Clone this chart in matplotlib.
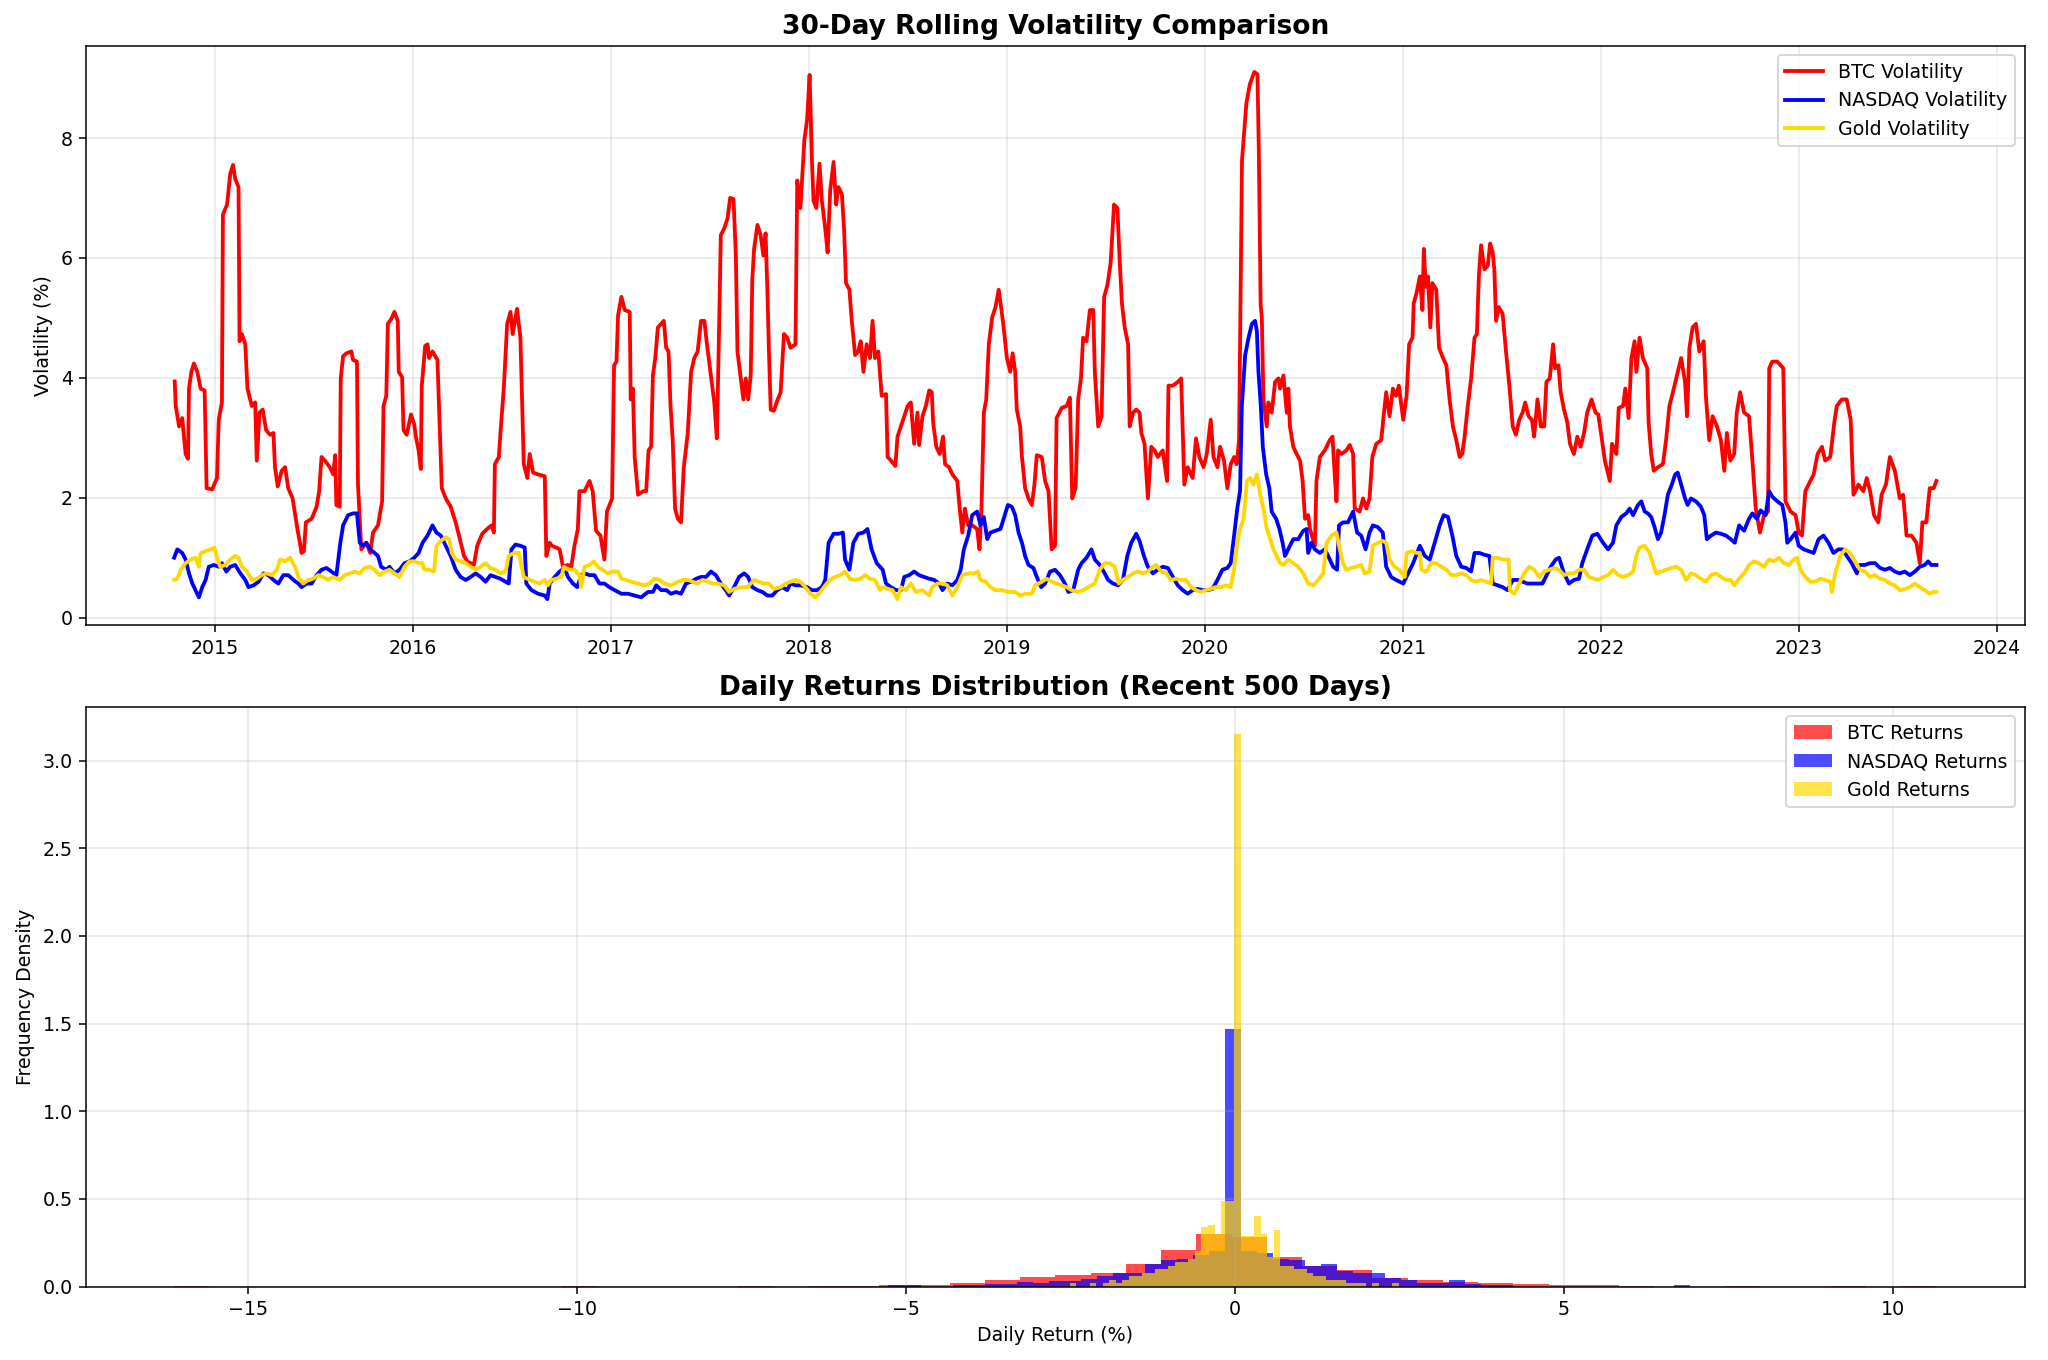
import numpy as np
import pandas as pd
import matplotlib
matplotlib.use("Agg")
import matplotlib.pyplot as plt

# --- 30-day rolling volatility (%), dates as decimal years ---
btc_t = [2014.797, 2014.802, 2014.819, 2014.835, 2014.852, 2014.864, 2014.869, 2014.881, 2014.894, 2014.911,
         2014.928, 2014.948, 2014.958, 2014.986, 2015.011, 2015.020, 2015.036, 2015.041, 2015.062, 2015.078,
         2015.092, 2015.103, 2015.120, 2015.125, 2015.137, 2015.154, 2015.165, 2015.187, 2015.204, 2015.212,
         2015.226, 2015.242, 2015.259, 2015.279, 2015.296, 2015.304, 2015.318, 2015.338, 2015.355, 2015.371,
         2015.393, 2015.417, 2015.430, 2015.438, 2015.450, 2015.460, 2015.489, 2015.514, 2015.527, 2015.539,
         2015.556, 2015.581, 2015.598, 2015.608, 2015.614, 2015.631, 2015.636, 2015.648, 2015.665, 2015.690,
         2015.698, 2015.718, 2015.723, 2015.740, 2015.765, 2015.785, 2015.799, 2015.824, 2015.845, 2015.852,
         2015.866, 2015.874, 2015.891, 2015.907, 2015.924, 2015.929, 2015.946, 2015.953, 2015.969, 2015.991,
         2016.008, 2016.016, 2016.030, 2016.041, 2016.046, 2016.063, 2016.075, 2016.083, 2016.100, 2016.125,
         2016.137, 2016.147, 2016.167, 2016.192, 2016.217, 2016.234, 2016.259, 2016.276, 2016.293, 2016.309,
         2016.326, 2016.351, 2016.376, 2016.398, 2016.410, 2016.415, 2016.435, 2016.448, 2016.460, 2016.477,
         2016.494, 2016.505, 2016.527, 2016.544, 2016.561, 2016.579, 2016.591, 2016.608, 2016.633, 2016.667,
         2016.675, 2016.692, 2016.703, 2016.725, 2016.742, 2016.759, 2016.784, 2016.801, 2016.817, 2016.834,
         2016.842, 2016.868, 2016.893, 2016.909, 2016.926, 2016.948, 2016.968, 2016.981, 2017.005, 2017.015,
         2017.027, 2017.035, 2017.052, 2017.069, 2017.094, 2017.099, 2017.110, 2017.119, 2017.136, 2017.161,
         2017.177, 2017.189, 2017.202, 2017.211, 2017.223, 2017.236, 2017.253, 2017.266, 2017.278, 2017.290,
         2017.300, 2017.311, 2017.323, 2017.337, 2017.353, 2017.367, 2017.387, 2017.404, 2017.420, 2017.437,
         2017.454, 2017.471, 2017.484, 2017.504, 2017.521, 2017.534, 2017.543, 2017.554, 2017.571, 2017.588,
         2017.601, 2017.618, 2017.630, 2017.638, 2017.655, 2017.668, 2017.680, 2017.692, 2017.705, 2017.713,
         2017.722, 2017.739, 2017.755, 2017.769, 2017.780, 2017.789, 2017.797, 2017.806, 2017.822, 2017.839,
         2017.856, 2017.873, 2017.889, 2017.906, 2017.931, 2017.940, 2017.956, 2017.976, 2017.990, 2018.003,
         2018.015, 2018.023, 2018.037, 2018.053, 2018.065, 2018.082, 2018.094, 2018.107, 2018.124, 2018.137,
         2018.149, 2018.166, 2018.177, 2018.187, 2018.204, 2018.216, 2018.233, 2018.249, 2018.261, 2018.275,
         2018.291, 2018.308, 2018.321, 2018.333, 2018.350, 2018.367, 2018.389, 2018.397, 2018.414, 2018.436,
         2018.447, 2018.464, 2018.481, 2018.498, 2018.514, 2018.531, 2018.548, 2018.556, 2018.573, 2018.590,
         2018.607, 2018.620, 2018.627, 2018.643, 2018.660, 2018.677, 2018.687, 2018.707, 2018.724, 2018.749,
         2018.761, 2018.774, 2018.787, 2018.804, 2018.824, 2018.849, 2018.861, 2018.871, 2018.883, 2018.895,
         2018.908, 2018.925, 2018.942, 2018.958, 2018.972, 2018.983, 2019.000, 2019.017, 2019.029, 2019.042,
         2019.050, 2019.067, 2019.076, 2019.092, 2019.109, 2019.126, 2019.139, 2019.151, 2019.176, 2019.193,
         2019.210, 2019.226, 2019.243, 2019.251, 2019.277, 2019.302, 2019.318, 2019.330, 2019.347, 2019.360,
         2019.374, 2019.385, 2019.402, 2019.419, 2019.436, 2019.444, 2019.461, 2019.478, 2019.491, 2019.508,
         2019.524, 2019.541, 2019.558, 2019.570, 2019.581, 2019.595, 2019.612, 2019.620, 2019.637, 2019.653,
         2019.670, 2019.679, 2019.695, 2019.712, 2019.729, 2019.746, 2019.762, 2019.787, 2019.809, 2019.816,
         2019.838, 2019.863, 2019.880, 2019.896, 2019.913, 2019.938, 2019.955, 2019.972, 2019.993, 2020.010,
         2020.030, 2020.044, 2020.064, 2020.077, 2020.097, 2020.114, 2020.131, 2020.148, 2020.161, 2020.173,
         2020.188, 2020.210, 2020.228, 2020.250, 2020.266, 2020.273, 2020.282, 2020.288, 2020.296, 2020.313,
         2020.321, 2020.338, 2020.355, 2020.372, 2020.380, 2020.397, 2020.414, 2020.422, 2020.430, 2020.447,
         2020.464, 2020.481, 2020.494, 2020.506, 2020.522, 2020.531, 2020.556, 2020.564, 2020.581, 2020.606,
         2020.631, 2020.645, 2020.656, 2020.665, 2020.673, 2020.690, 2020.715, 2020.732, 2020.749, 2020.757,
         2020.782, 2020.799, 2020.816, 2020.832, 2020.846, 2020.866, 2020.891, 2020.903, 2020.916, 2020.933,
         2020.950, 2020.966, 2020.980, 2021.000, 2021.017, 2021.030, 2021.047, 2021.053, 2021.067, 2021.084,
         2021.097, 2021.104, 2021.114, 2021.125, 2021.137, 2021.147, 2021.167, 2021.181, 2021.201, 2021.218,
         2021.234, 2021.251, 2021.268, 2021.285, 2021.298, 2021.310, 2021.326, 2021.343, 2021.360, 2021.372,
         2021.382, 2021.393, 2021.410, 2021.427, 2021.439, 2021.452, 2021.460, 2021.469, 2021.482, 2021.502,
         2021.519, 2021.536, 2021.553, 2021.569, 2021.586, 2021.603, 2021.616, 2021.633, 2021.650, 2021.661,
         2021.678, 2021.695, 2021.712, 2021.723, 2021.740, 2021.757, 2021.767, 2021.784, 2021.795, 2021.812,
         2021.829, 2021.842, 2021.862, 2021.879, 2021.896, 2021.913, 2021.929, 2021.951, 2021.971, 2021.985,
         2022.002, 2022.019, 2022.044, 2022.055, 2022.077, 2022.089, 2022.111, 2022.122, 2022.139, 2022.153,
         2022.169, 2022.178, 2022.194, 2022.211, 2022.233, 2022.240, 2022.253, 2022.266, 2022.287, 2022.312,
         2022.328, 2022.345, 2022.367, 2022.387, 2022.404, 2022.424, 2022.434, 2022.446, 2022.462, 2022.479,
         2022.496, 2022.518, 2022.529, 2022.546, 2022.563, 2022.585, 2022.605, 2022.622, 2022.635, 2022.652,
         2022.672, 2022.685, 2022.702, 2022.722, 2022.747, 2022.764, 2022.781, 2022.802, 2022.823, 2022.843,
         2022.849, 2022.864, 2022.890, 2022.920, 2022.931, 2022.957, 2022.982, 2022.998, 2023.015, 2023.032,
         2023.057, 2023.074, 2023.094, 2023.116, 2023.132, 2023.158, 2023.178, 2023.191, 2023.216, 2023.241,
         2023.261, 2023.275, 2023.300, 2023.325, 2023.342, 2023.359, 2023.379, 2023.400, 2023.417, 2023.439,
         2023.459, 2023.484, 2023.509, 2023.526, 2023.543, 2023.568, 2023.593, 2023.610, 2023.623, 2023.643,
         2023.660, 2023.680, 2023.694]
btc_vol = [3.94, 3.53, 3.19, 3.33, 2.73, 2.65, 3.82, 4.10, 4.24, 4.10,
           3.82, 3.79, 2.16, 2.14, 2.33, 3.30, 3.59, 6.72, 6.89, 7.40,
           7.55, 7.32, 7.18, 4.61, 4.73, 4.56, 3.82, 3.53, 3.59, 2.62,
           3.42, 3.47, 3.13, 3.05, 3.08, 2.51, 2.19, 2.45, 2.51, 2.16,
           1.99, 1.48, 1.25, 1.08, 1.11, 1.59, 1.65, 1.85, 2.11, 2.68,
           2.62, 2.51, 2.39, 2.71, 1.88, 1.85, 3.99, 4.36, 4.41, 4.44,
           4.30, 4.27, 2.22, 1.14, 1.25, 1.08, 1.42, 1.54, 1.94, 3.53,
           3.70, 4.90, 4.98, 5.10, 4.95, 4.10, 4.01, 3.13, 3.05, 3.39,
           3.22, 3.02, 2.79, 2.48, 3.87, 4.53, 4.56, 4.33, 4.44, 4.30,
           3.13, 2.16, 1.99, 1.85, 1.59, 1.37, 1.03, 0.94, 0.91, 0.88,
           1.20, 1.40, 1.48, 1.54, 1.42, 2.56, 2.68, 3.30, 3.82, 4.90,
           5.10, 4.73, 5.15, 4.67, 2.56, 2.33, 2.73, 2.42, 2.39, 2.36,
           1.03, 1.25, 1.20, 1.17, 1.14, 0.85, 0.88, 0.85, 1.20, 1.48,
           2.11, 2.11, 2.28, 2.11, 1.45, 1.37, 0.97, 1.77, 1.99, 4.21,
           4.27, 5.04, 5.35, 5.13, 5.10, 3.64, 3.82, 2.68, 2.05, 2.11,
           2.11, 2.79, 2.85, 4.04, 4.33, 4.84, 4.90, 4.95, 4.50, 4.44,
           3.53, 2.96, 1.82, 1.65, 1.59, 2.51, 3.08, 4.10, 4.33, 4.44,
           4.95, 4.95, 4.56, 4.04, 3.59, 2.99, 4.44, 6.38, 6.49, 6.66,
           7.00, 6.98, 6.04, 4.44, 3.99, 3.64, 3.99, 3.64, 4.04, 5.64,
           6.15, 6.55, 6.38, 6.04, 6.41, 5.47, 4.44, 3.47, 3.45, 3.62,
           3.76, 4.73, 4.67, 4.50, 4.56, 7.29, 6.83, 7.97, 8.31, 9.05,
           7.60, 6.95, 6.83, 7.57, 6.95, 6.49, 6.09, 7.12, 7.60, 6.89,
           7.18, 7.06, 6.49, 5.58, 5.47, 4.95, 4.38, 4.44, 4.61, 4.10,
           4.56, 4.33, 4.95, 4.33, 4.44, 3.70, 3.73, 2.68, 2.62, 2.53,
           3.02, 3.19, 3.36, 3.53, 3.59, 2.90, 3.42, 2.88, 3.36, 3.53,
           3.79, 3.76, 3.25, 2.85, 2.73, 3.02, 2.56, 2.51, 2.39, 2.28,
           1.82, 1.42, 1.82, 1.54, 1.54, 1.48, 1.14, 1.82, 3.42, 3.64,
           4.56, 5.01, 5.18, 5.47, 5.13, 4.84, 4.33, 4.10, 4.41, 4.10,
           3.47, 3.19, 2.68, 2.16, 1.99, 1.88, 2.22, 2.71, 2.68, 2.28,
           2.11, 1.14, 1.20, 3.33, 3.50, 3.53, 3.67, 1.99, 2.16, 3.64,
           3.99, 4.67, 4.61, 5.13, 5.13, 4.10, 3.19, 3.36, 5.35, 5.55,
           5.92, 6.89, 6.83, 5.92, 5.24, 4.84, 4.56, 3.19, 3.42, 3.47,
           3.42, 3.08, 2.90, 1.99, 2.85, 2.79, 2.68, 2.79, 2.28, 3.87,
           3.87, 3.93, 3.99, 2.22, 2.51, 2.33, 2.99, 2.68, 2.51, 2.73,
           3.30, 2.68, 2.51, 2.85, 2.62, 2.16, 2.56, 2.68, 2.56, 2.96,
           7.63, 8.58, 8.90, 9.10, 9.06, 7.76, 5.22, 5.01, 3.64, 3.19,
           3.59, 3.42, 3.93, 3.99, 3.82, 4.04, 3.42, 3.82, 3.19, 2.85,
           2.73, 2.62, 2.28, 1.65, 1.71, 1.48, 1.20, 2.28, 2.68, 2.79,
           2.96, 3.02, 2.39, 1.94, 2.79, 2.73, 2.79, 2.88, 2.73, 1.82,
           1.77, 1.99, 1.82, 1.99, 2.68, 2.90, 2.96, 3.36, 3.76, 3.36,
           3.82, 3.70, 3.87, 3.30, 3.70, 4.56, 4.67, 5.24, 5.41, 5.69,
           5.13, 6.15, 5.52, 5.69, 4.84, 5.58, 5.47, 4.50, 4.33, 4.21,
           3.64, 3.19, 2.96, 2.68, 2.73, 3.02, 3.53, 3.99, 4.67, 4.73,
           5.69, 6.21, 5.81, 5.87, 6.24, 6.09, 5.81, 4.95, 5.18, 5.07,
           4.44, 3.87, 3.19, 3.05, 3.30, 3.42, 3.59, 3.36, 3.30, 3.02,
           3.64, 3.19, 3.19, 3.93, 3.99, 4.56, 4.16, 4.21, 3.76, 3.47,
           3.25, 2.90, 2.73, 3.02, 2.85, 3.08, 3.42, 3.64, 3.42, 3.39,
           3.02, 2.62, 2.28, 2.90, 2.73, 3.50, 3.53, 3.82, 3.33, 4.33,
           4.61, 4.10, 4.67, 4.33, 4.16, 3.25, 2.73, 2.45, 2.51, 2.56,
           2.96, 3.53, 3.82, 4.10, 4.33, 3.93, 3.36, 4.50, 4.84, 4.90,
           4.44, 4.61, 3.70, 2.96, 3.36, 3.19, 2.96, 2.45, 3.08, 2.62,
           2.73, 3.42, 3.76, 3.42, 3.36, 2.62, 1.82, 1.42, 1.71, 1.77,
           4.16, 4.27, 4.27, 4.16, 1.94, 1.77, 1.71, 1.42, 1.37, 2.11,
           2.28, 2.39, 2.73, 2.85, 2.62, 2.68, 3.25, 3.53, 3.64, 3.64,
           3.30, 2.05, 2.22, 2.11, 2.33, 2.11, 1.71, 1.59, 2.05, 2.22,
           2.68, 2.45, 1.99, 2.05, 1.37, 1.37, 1.25, 0.91, 1.59, 1.59,
           2.16, 2.16, 2.28]

nasdaq_t = [2014.794, 2014.810, 2014.835, 2014.852, 2014.869, 2014.886, 2014.902, 2014.919, 2014.936, 2014.953,
            2014.969, 2014.995, 2015.020, 2015.036, 2015.058, 2015.078, 2015.103, 2015.129, 2015.154, 2015.170,
            2015.196, 2015.221, 2015.246, 2015.271, 2015.296, 2015.321, 2015.346, 2015.371, 2015.397, 2015.422,
            2015.438, 2015.464, 2015.489, 2015.514, 2015.539, 2015.564, 2015.589, 2015.614, 2015.634, 2015.648,
            2015.673, 2015.698, 2015.718, 2015.732, 2015.748, 2015.765, 2015.785, 2015.807, 2015.824, 2015.840,
            2015.866, 2015.882, 2015.907, 2015.933, 2015.958, 2015.983, 2016.008, 2016.030, 2016.050, 2016.075,
            2016.100, 2016.120, 2016.142, 2016.167, 2016.192, 2016.217, 2016.242, 2016.268, 2016.293, 2016.318,
            2016.343, 2016.368, 2016.393, 2016.418, 2016.443, 2016.469, 2016.485, 2016.499, 2016.519, 2016.544,
            2016.566, 2016.574, 2016.600, 2016.633, 2016.667, 2016.680, 2016.692, 2016.717, 2016.742, 2016.767,
            2016.784, 2016.809, 2016.831, 2016.851, 2016.868, 2016.893, 2016.918, 2016.943, 2016.968, 2016.993,
            2017.018, 2017.052, 2017.085, 2017.119, 2017.152, 2017.186, 2017.211, 2017.228, 2017.253, 2017.278,
            2017.303, 2017.328, 2017.353, 2017.378, 2017.404, 2017.429, 2017.454, 2017.479, 2017.504, 2017.529,
            2017.554, 2017.579, 2017.596, 2017.621, 2017.646, 2017.672, 2017.692, 2017.713, 2017.739, 2017.764,
            2017.789, 2017.814, 2017.839, 2017.864, 2017.889, 2017.906, 2017.931, 2017.956, 2017.990, 2018.015,
            2018.040, 2018.065, 2018.082, 2018.099, 2018.124, 2018.149, 2018.171, 2018.182, 2018.204, 2018.224,
            2018.249, 2018.275, 2018.295, 2018.316, 2018.342, 2018.372, 2018.389, 2018.414, 2018.439, 2018.464,
            2018.481, 2018.506, 2018.531, 2018.556, 2018.581, 2018.607, 2018.632, 2018.657, 2018.674, 2018.699,
            2018.724, 2018.749, 2018.766, 2018.782, 2018.804, 2018.824, 2018.849, 2018.866, 2018.883, 2018.900,
            2018.916, 2018.942, 2018.967, 2018.983, 2019.005, 2019.025, 2019.042, 2019.059, 2019.076, 2019.092,
            2019.109, 2019.134, 2019.151, 2019.173, 2019.193, 2019.218, 2019.243, 2019.268, 2019.293, 2019.310,
            2019.335, 2019.360, 2019.377, 2019.402, 2019.427, 2019.444, 2019.469, 2019.494, 2019.511, 2019.536,
            2019.561, 2019.586, 2019.608, 2019.628, 2019.653, 2019.670, 2019.692, 2019.712, 2019.737, 2019.762,
            2019.787, 2019.813, 2019.838, 2019.863, 2019.888, 2019.913, 2019.938, 2019.963, 2019.988, 2020.014,
            2020.039, 2020.064, 2020.089, 2020.114, 2020.131, 2020.148, 2020.164, 2020.178, 2020.187, 2020.204,
            2020.221, 2020.238, 2020.254, 2020.263, 2020.271, 2020.283, 2020.293, 2020.310, 2020.326, 2020.338,
            2020.360, 2020.377, 2020.393, 2020.405, 2020.430, 2020.447, 2020.472, 2020.497, 2020.514, 2020.522,
            2020.539, 2020.556, 2020.581, 2020.606, 2020.623, 2020.648, 2020.668, 2020.678, 2020.698, 2020.723,
            2020.749, 2020.769, 2020.790, 2020.812, 2020.832, 2020.849, 2020.874, 2020.899, 2020.916, 2020.941,
            2020.966, 2021.000, 2021.025, 2021.050, 2021.084, 2021.109, 2021.134, 2021.159, 2021.184, 2021.204,
            2021.226, 2021.248, 2021.268, 2021.293, 2021.318, 2021.343, 2021.360, 2021.385, 2021.410, 2021.435,
            2021.452, 2021.477, 2021.502, 2021.527, 2021.553, 2021.578, 2021.603, 2021.628, 2021.653, 2021.678,
            2021.703, 2021.720, 2021.745, 2021.770, 2021.787, 2021.812, 2021.837, 2021.862, 2021.888, 2021.904,
            2021.929, 2021.955, 2021.980, 2022.010, 2022.035, 2022.060, 2022.077, 2022.102, 2022.127, 2022.144,
            2022.161, 2022.186, 2022.203, 2022.220, 2022.236, 2022.253, 2022.270, 2022.287, 2022.303, 2022.320,
            2022.337, 2022.357, 2022.374, 2022.387, 2022.404, 2022.424, 2022.437, 2022.454, 2022.479, 2022.504,
            2022.521, 2022.534, 2022.555, 2022.580, 2022.605, 2022.630, 2022.655, 2022.675, 2022.697, 2022.722,
            2022.747, 2022.764, 2022.786, 2022.806, 2022.831, 2022.848, 2022.864, 2022.890, 2022.915, 2022.931,
            2022.940, 2022.957, 2022.982, 2022.998, 2023.024, 2023.049, 2023.074, 2023.099, 2023.124, 2023.149,
            2023.174, 2023.199, 2023.221, 2023.241, 2023.266, 2023.292, 2023.308, 2023.333, 2023.359, 2023.384,
            2023.409, 2023.434, 2023.459, 2023.484, 2023.509, 2023.534, 2023.560, 2023.585, 2023.610, 2023.635,
            2023.652, 2023.668, 2023.694]
nasdaq_vol = [1.00, 1.14, 1.08, 0.97, 0.74, 0.57, 0.46, 0.34, 0.51, 0.63,
              0.85, 0.88, 0.85, 0.91, 0.77, 0.85, 0.88, 0.74, 0.63, 0.51,
              0.54, 0.60, 0.74, 0.71, 0.63, 0.57, 0.71, 0.71, 0.63, 0.57,
              0.51, 0.57, 0.57, 0.71, 0.80, 0.83, 0.77, 0.71, 1.25, 1.54,
              1.71, 1.74, 1.74, 1.25, 1.20, 1.25, 1.14, 1.08, 1.03, 0.85,
              0.80, 0.85, 0.74, 0.80, 0.91, 0.94, 1.00, 1.08, 1.25, 1.37,
              1.54, 1.42, 1.37, 1.20, 1.03, 0.80, 0.68, 0.63, 0.68, 0.74,
              0.68, 0.60, 0.71, 0.68, 0.65, 0.60, 0.57, 1.14, 1.22, 1.20,
              1.17, 0.57, 0.46, 0.40, 0.37, 0.31, 0.57, 0.68, 0.77, 0.83,
              0.68, 0.57, 0.51, 0.71, 0.74, 0.71, 0.71, 0.57, 0.57, 0.51,
              0.46, 0.40, 0.40, 0.37, 0.34, 0.43, 0.43, 0.54, 0.46, 0.46,
              0.40, 0.43, 0.40, 0.57, 0.60, 0.65, 0.68, 0.68, 0.77, 0.71,
              0.57, 0.46, 0.37, 0.51, 0.68, 0.74, 0.68, 0.51, 0.46, 0.43,
              0.37, 0.37, 0.46, 0.51, 0.46, 0.57, 0.54, 0.54, 0.51, 0.46,
              0.46, 0.51, 0.63, 1.25, 1.40, 1.40, 1.42, 0.97, 0.80, 1.25,
              1.40, 1.42, 1.48, 1.14, 0.91, 0.80, 0.57, 0.51, 0.46, 0.46,
              0.68, 0.71, 0.77, 0.71, 0.68, 0.65, 0.63, 0.57, 0.46, 0.57,
              0.54, 0.63, 0.80, 1.14, 1.37, 1.71, 1.77, 1.54, 1.68, 1.31,
              1.42, 1.45, 1.48, 1.65, 1.88, 1.85, 1.71, 1.42, 1.25, 1.03,
              0.88, 0.83, 0.68, 0.51, 0.57, 0.77, 0.80, 0.71, 0.57, 0.43,
              0.46, 0.80, 0.91, 1.00, 1.14, 0.97, 0.88, 0.74, 0.63, 0.57,
              0.54, 0.63, 1.03, 1.25, 1.40, 1.28, 1.03, 0.85, 0.74, 0.80,
              0.85, 0.83, 0.68, 0.54, 0.46, 0.40, 0.46, 0.48, 0.46, 0.46,
              0.48, 0.63, 0.80, 0.83, 0.91, 1.37, 1.82, 2.11, 3.53, 4.38,
              4.67, 4.90, 4.95, 4.78, 4.10, 3.53, 2.85, 2.39, 2.16, 1.77,
              1.65, 1.48, 1.25, 1.03, 1.20, 1.31, 1.31, 1.45, 1.48, 1.08,
              1.25, 1.14, 1.08, 1.14, 1.03, 0.85, 0.80, 1.54, 1.59, 1.59,
              1.77, 1.42, 1.37, 1.14, 1.42, 1.54, 1.51, 1.42, 0.85, 0.68,
              0.63, 0.57, 0.74, 0.91, 1.20, 1.03, 0.97, 1.25, 1.54, 1.71,
              1.68, 1.37, 1.03, 0.85, 0.83, 0.77, 1.08, 1.08, 1.05, 1.03,
              0.57, 0.54, 0.51, 0.46, 0.63, 0.63, 0.60, 0.57, 0.57, 0.57,
              0.57, 0.68, 0.85, 0.97, 1.00, 0.74, 0.57, 0.63, 0.65, 0.91,
              1.14, 1.37, 1.40, 1.25, 1.14, 1.25, 1.54, 1.68, 1.74, 1.82,
              1.71, 1.88, 1.94, 1.77, 1.74, 1.68, 1.51, 1.31, 1.42, 1.71,
              2.05, 2.22, 2.39, 2.42, 2.22, 1.99, 1.88, 1.99, 1.94, 1.85,
              1.71, 1.31, 1.37, 1.42, 1.40, 1.37, 1.31, 1.25, 1.54, 1.45,
              1.65, 1.74, 1.65, 1.79, 1.71, 2.11, 2.02, 1.94, 1.88, 1.59,
              1.25, 1.31, 1.42, 1.20, 1.14, 1.11, 1.08, 1.31, 1.37, 1.25,
              1.08, 1.14, 1.14, 1.03, 0.91, 0.74, 0.88, 0.88, 0.91, 0.91,
              0.83, 0.80, 0.83, 0.77, 0.74, 0.77, 0.71, 0.77, 0.85, 0.88,
              0.94, 0.88, 0.88]

gold_t = [2014.794, 2014.810, 2014.827, 2014.852, 2014.877, 2014.902, 2014.919, 2014.928, 2014.953, 2014.978,
          2014.998, 2015.011, 2015.028, 2015.053, 2015.078, 2015.103, 2015.120, 2015.137, 2015.162, 2015.187,
          2015.212, 2015.237, 2015.263, 2015.288, 2015.313, 2015.330, 2015.355, 2015.380, 2015.405, 2015.422,
          2015.447, 2015.472, 2015.497, 2015.522, 2015.547, 2015.572, 2015.598, 2015.631, 2015.656, 2015.681,
          2015.706, 2015.732, 2015.757, 2015.782, 2015.807, 2015.832, 2015.857, 2015.882, 2015.907, 2015.933,
          2015.958, 2015.983, 2016.008, 2016.033, 2016.050, 2016.058, 2016.083, 2016.108, 2016.120, 2016.142,
          2016.167, 2016.184, 2016.197, 2016.217, 2016.242, 2016.268, 2016.293, 2016.318, 2016.343, 2016.368,
          2016.393, 2016.418, 2016.443, 2016.469, 2016.485, 2016.510, 2016.536, 2016.561, 2016.591, 2016.616,
          2016.641, 2016.667, 2016.683, 2016.700, 2016.725, 2016.750, 2016.764, 2016.784, 2016.817, 2016.842,
          2016.851, 2016.868, 2016.893, 2016.914, 2016.934, 2016.960, 2016.985, 2017.010, 2017.035, 2017.052,
          2017.077, 2017.102, 2017.136, 2017.169, 2017.194, 2017.219, 2017.244, 2017.270, 2017.303, 2017.337,
          2017.362, 2017.387, 2017.412, 2017.437, 2017.462, 2017.487, 2017.512, 2017.538, 2017.571, 2017.596,
          2017.621, 2017.655, 2017.688, 2017.722, 2017.747, 2017.772, 2017.797, 2017.822, 2017.856, 2017.881,
          2017.906, 2017.931, 2017.956, 2017.981, 2018.007, 2018.032, 2018.057, 2018.082, 2018.107, 2018.132,
          2018.157, 2018.182, 2018.207, 2018.233, 2018.258, 2018.283, 2018.308, 2018.333, 2018.358, 2018.372,
          2018.397, 2018.422, 2018.447, 2018.464, 2018.489, 2018.514, 2018.540, 2018.573, 2018.607, 2018.623,
          2018.648, 2018.674, 2018.699, 2018.724, 2018.749, 2018.774, 2018.808, 2018.833, 2018.854, 2018.866,
          2018.891, 2018.916, 2018.942, 2018.975, 2019.009, 2019.042, 2019.067, 2019.092, 2019.126, 2019.143,
          2019.176, 2019.201, 2019.226, 2019.251, 2019.277, 2019.302, 2019.327, 2019.360, 2019.385, 2019.411,
          2019.444, 2019.469, 2019.494, 2019.519, 2019.545, 2019.565, 2019.586, 2019.612, 2019.637, 2019.662,
          2019.687, 2019.712, 2019.737, 2019.754, 2019.779, 2019.804, 2019.829, 2019.854, 2019.880, 2019.905,
          2019.930, 2019.955, 2019.980, 2020.005, 2020.030, 2020.055, 2020.081, 2020.106, 2020.131, 2020.148,
          2020.164, 2020.178, 2020.196, 2020.213, 2020.229, 2020.246, 2020.263, 2020.280, 2020.296, 2020.313,
          2020.330, 2020.347, 2020.363, 2020.380, 2020.397, 2020.422, 2020.447, 2020.472, 2020.497, 2020.522,
          2020.548, 2020.573, 2020.598, 2020.615, 2020.640, 2020.665, 2020.682, 2020.698, 2020.715, 2020.740,
          2020.765, 2020.790, 2020.807, 2020.832, 2020.849, 2020.874, 2020.899, 2020.916, 2020.933, 2020.958,
          2020.983, 2021.008, 2021.017, 2021.042, 2021.067, 2021.084, 2021.092, 2021.117, 2021.142, 2021.167,
          2021.192, 2021.218, 2021.243, 2021.268, 2021.293, 2021.318, 2021.343, 2021.368, 2021.393, 2021.419,
          2021.444, 2021.452, 2021.477, 2021.502, 2021.532, 2021.539, 2021.561, 2021.586, 2021.611, 2021.636,
          2021.661, 2021.687, 2021.712, 2021.737, 2021.762, 2021.787, 2021.812, 2021.837, 2021.862, 2021.888,
          2021.913, 2021.938, 2021.963, 2021.985, 2022.010, 2022.035, 2022.060, 2022.086, 2022.111, 2022.136,
          2022.161, 2022.178, 2022.194, 2022.220, 2022.245, 2022.261, 2022.278, 2022.303, 2022.328, 2022.354,
          2022.379, 2022.404, 2022.429, 2022.454, 2022.479, 2022.504, 2022.529, 2022.555, 2022.580, 2022.605,
          2022.630, 2022.655, 2022.672, 2022.697, 2022.722, 2022.747, 2022.772, 2022.797, 2022.823, 2022.848,
          2022.873, 2022.898, 2022.923, 2022.948, 2022.973, 2022.990, 2023.007, 2023.032, 2023.057, 2023.082,
          2023.107, 2023.132, 2023.158, 2023.166, 2023.183, 2023.208, 2023.233, 2023.258, 2023.283, 2023.308,
          2023.333, 2023.359, 2023.384, 2023.409, 2023.434, 2023.459, 2023.484, 2023.509, 2023.534, 2023.560,
          2023.585, 2023.610, 2023.635, 2023.660, 2023.677, 2023.694]
gold_vol = [0.63, 0.65, 0.80, 0.91, 0.97, 1.00, 0.85, 1.08, 1.11, 1.14,
            1.17, 1.00, 0.85, 0.88, 0.97, 1.03, 1.00, 0.85, 0.77, 0.63,
            0.65, 0.71, 0.74, 0.71, 0.80, 0.97, 0.94, 1.00, 0.85, 0.68,
            0.57, 0.63, 0.65, 0.71, 0.68, 0.63, 0.68, 0.63, 0.71, 0.74,
            0.77, 0.74, 0.83, 0.85, 0.80, 0.71, 0.77, 0.80, 0.74, 0.68,
            0.85, 0.94, 0.94, 0.91, 0.91, 0.80, 0.80, 0.77, 1.20, 1.28,
            1.34, 1.31, 1.08, 0.97, 0.94, 0.91, 0.85, 0.80, 0.85, 0.91,
            0.83, 0.80, 0.74, 0.77, 1.03, 1.08, 1.08, 0.68, 0.63, 0.60,
            0.57, 0.63, 0.54, 0.63, 0.65, 0.68, 0.85, 0.80, 0.80, 0.71,
            0.51, 0.85, 0.88, 0.94, 0.85, 0.80, 0.74, 0.77, 0.77, 0.65,
            0.63, 0.60, 0.57, 0.54, 0.57, 0.65, 0.63, 0.57, 0.54, 0.60,
            0.63, 0.63, 0.60, 0.57, 0.63, 0.60, 0.57, 0.57, 0.54, 0.43,
            0.48, 0.51, 0.51, 0.63, 0.60, 0.57, 0.57, 0.48, 0.51, 0.57,
            0.60, 0.63, 0.60, 0.51, 0.40, 0.34, 0.43, 0.54, 0.63, 0.68,
            0.71, 0.77, 0.65, 0.63, 0.65, 0.71, 0.65, 0.63, 0.46, 0.51,
            0.48, 0.46, 0.31, 0.51, 0.46, 0.57, 0.43, 0.46, 0.37, 0.51,
            0.57, 0.57, 0.54, 0.37, 0.51, 0.71, 0.74, 0.74, 0.77, 0.63,
            0.60, 0.51, 0.46, 0.46, 0.43, 0.43, 0.37, 0.40, 0.40, 0.54,
            0.60, 0.65, 0.60, 0.57, 0.54, 0.51, 0.46, 0.43, 0.46, 0.51,
            0.57, 0.80, 0.91, 0.91, 0.85, 0.57, 0.63, 0.68, 0.74, 0.77,
            0.74, 0.77, 0.85, 0.88, 0.77, 0.74, 0.63, 0.65, 0.63, 0.63,
            0.51, 0.46, 0.43, 0.46, 0.48, 0.51, 0.51, 0.54, 0.51, 0.80,
            1.25, 1.48, 1.65, 2.28, 2.33, 2.22, 2.39, 2.05, 1.82, 1.48,
            1.31, 1.14, 1.03, 0.91, 0.88, 0.97, 0.91, 0.85, 0.74, 0.57,
            0.54, 0.63, 0.74, 1.25, 1.37, 1.42, 1.14, 0.91, 0.80, 0.83,
            0.85, 0.88, 0.74, 0.77, 1.20, 1.25, 1.28, 1.25, 0.97, 0.85,
            0.80, 0.68, 1.08, 1.11, 1.08, 1.08, 0.80, 0.77, 0.91, 0.91,
            0.85, 0.80, 0.71, 0.71, 0.74, 0.71, 0.63, 0.60, 0.63, 0.60,
            0.57, 1.00, 1.00, 0.97, 0.97, 0.46, 0.40, 0.57, 0.74, 0.85,
            0.80, 0.68, 0.77, 0.80, 0.83, 0.80, 0.71, 0.74, 0.74, 0.80,
            0.80, 0.68, 0.65, 0.63, 0.68, 0.71, 0.80, 0.71, 0.68, 0.71,
            0.77, 1.03, 1.17, 1.20, 1.08, 0.91, 0.74, 0.77, 0.80, 0.83,
            0.85, 0.80, 0.63, 0.74, 0.71, 0.65, 0.60, 0.71, 0.74, 0.68,
            0.63, 0.63, 0.54, 0.65, 0.74, 0.88, 0.94, 0.91, 0.85, 0.97,
            0.94, 1.00, 0.91, 0.88, 0.97, 1.00, 0.80, 0.68, 0.60, 0.60,
            0.65, 0.63, 0.60, 0.43, 0.74, 1.03, 1.14, 1.08, 0.94, 0.80,
            0.77, 0.68, 0.71, 0.65, 0.63, 0.57, 0.54, 0.46, 0.48, 0.51,
            0.57, 0.51, 0.46, 0.40, 0.43, 0.43]

# --- daily returns histogram (density per bin, 50 bins each) ---
btc_edges = np.linspace(-16.12, 10.66, 51)
btc_density = [0.0037, 0, 0, 0, 0, 0, 0, 0, 0, 0,
               0, 0.0037, 0, 0, 0, 0, 0.0037, 0, 0.0037, 0.0037,
               0.0075, 0.011, 0.019, 0.037, 0.052, 0.067, 0.080, 0.130, 0.210, 0.300,
               0.280, 0.170, 0.120, 0.095, 0.050, 0.040, 0.026, 0.020, 0.015, 0.011,
               0.0075, 0.0037, 0, 0, 0.0037, 0, 0, 0.0037, 0, 0.0037]

nasdaq_edges = np.linspace(-5.265, 6.91, 51)
nasdaq_density = [0.008, 0.008, 0, 0, 0.008, 0.008, 0.016, 0.016, 0.025, 0.020,
                  0.030, 0.030, 0.045, 0.060, 0.080, 0.080, 0.130, 0.150, 0.160, 0.180,
                  0.200, 1.470, 0.200, 0.190, 0.160, 0.150, 0.120, 0.130, 0.090, 0.080,
                  0.075, 0.050, 0.035, 0.020, 0.020, 0.040, 0.016, 0.008, 0.008, 0,
                  0, 0, 0, 0, 0, 0, 0, 0, 0, 0.008]

gold_edges = np.linspace(-2.51, 2.49, 51)
gold_density = [0.02, 0, 0, 0.02, 0, 0.02, 0.04, 0.02, 0.04, 0.06,
                0.06, 0.08, 0.08, 0.10, 0.10, 0.12, 0.14, 0.14, 0.16, 0.20,
                0.34, 0.35, 0.30, 0.49, 0.49, 3.15, 0.29, 0.29, 0.40, 0.30,
                0.17, 0.32, 0.12, 0.12, 0.10, 0.10, 0.08, 0.06, 0.06, 0.04,
                0.04, 0.04, 0.02, 0.02, 0.02, 0, 0.02, 0, 0, 0.02]


def to_dates(years):
    # decimal year -> timestamp
    return [pd.Timestamp(int(y), 1, 1) + pd.Timedelta(days=(y - int(y)) * 365.25) for y in years]


fig, (ax1, ax2) = plt.subplots(2, 1, figsize=(15, 9.961), dpi=136.54)
fig.subplots_adjust(left=0.042, right=0.9885, top=0.9664, bottom=0.054, hspace=0.14)

ax1.plot(to_dates(btc_t), btc_vol, color='red', linewidth=2, label='BTC Volatility')
ax1.plot(to_dates(nasdaq_t), nasdaq_vol, color='blue', linewidth=2, label='NASDAQ Volatility')
ax1.plot(to_dates(gold_t), gold_vol, color='gold', linewidth=2, label='Gold Volatility')
ax1.set_title('30-Day Rolling Volatility Comparison', fontsize=14, fontweight='bold')
ax1.set_ylabel('Volatility (%)')
ax1.legend(loc='upper right')
ax1.grid(True, alpha=0.3)

ax2.hist(btc_edges[:-1], bins=btc_edges, weights=btc_density, color='red', alpha=0.7, label='BTC Returns')
ax2.hist(nasdaq_edges[:-1], bins=nasdaq_edges, weights=nasdaq_density, color='blue', alpha=0.7, label='NASDAQ Returns')
ax2.hist(gold_edges[:-1], bins=gold_edges, weights=gold_density, color='gold', alpha=0.7, label='Gold Returns')
ax2.set_title('Daily Returns Distribution (Recent 500 Days)', fontsize=14, fontweight='bold')
ax2.set_xlabel('Daily Return (%)')
ax2.set_ylabel('Frequency Density')
ax2.legend(loc='upper right')
ax2.grid(True, alpha=0.3)

plt.savefig('out.png')
